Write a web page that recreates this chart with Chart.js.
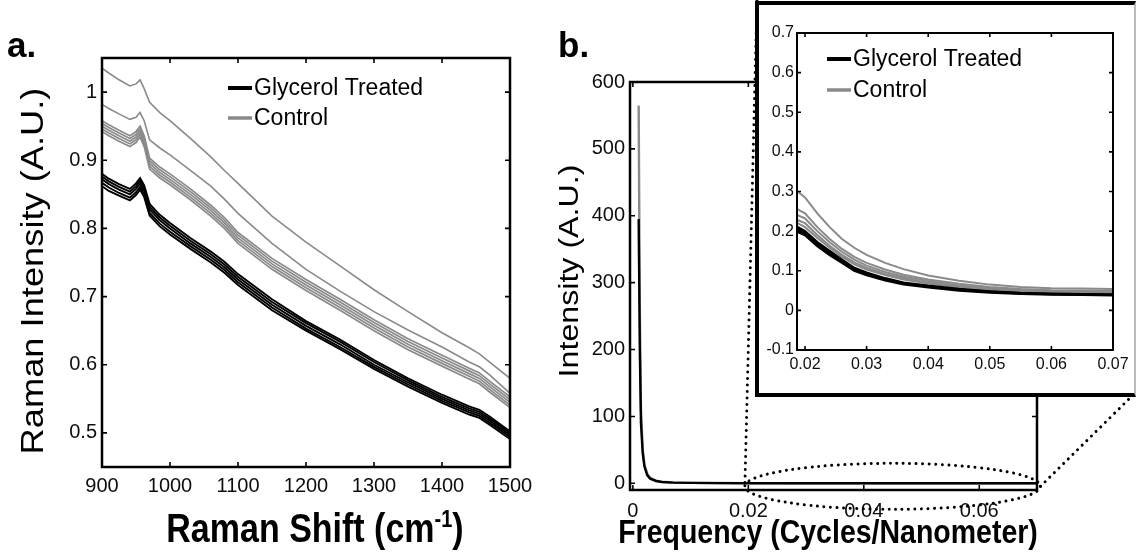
<!DOCTYPE html>
<html>
<head>
<meta charset="utf-8">
<script src="https://cdn.jsdelivr.net/npm/chart.js@4.4.1/dist/chart.umd.min.js"></script>
<style>
  html, body { margin: 0; padding: 0; background: #fff; }
  #wrap { position: relative; width: 1136px; height: 556px; overflow: hidden; }
  canvas { position: absolute; }
  #insetFrame { position: absolute; box-sizing: border-box; background: #fff;
    border: 4px solid #000; border-right: 2px solid #bbb; }
</style>
</head>
<body>
<div id="wrap">
  <canvas id="ramanChart" width="560" height="556" style="left:0;top:0"></canvas>
  <canvas id="fftChart" width="580" height="556" style="left:556px;top:0"></canvas>
  <div id="insetFrame"></div>
  <canvas id="insetChart" width="380" height="400" style="left:756px;top:0"></canvas>
</div>
<script>
Chart.defaults.font.family = "'Liberation Sans', Arial, sans-serif";
Chart.defaults.animation = false;

const INK = "#000";
const GREY = "#8a8a8a";
const FONT = "'Liberation Sans', Arial, sans-serif";

// ---- panel a: Raman spectra ----
const ramanShift = [900, 910, 925, 941, 950, 956, 962, 970, 985, 1000, 1030, 1060, 1080, 1100,
  1150, 1200, 1250, 1300, 1350, 1400, 1440, 1455, 1470, 1500];
const glycerolRaman = [
  [.880, .873, .865, .858, .866, .874, .863, .836, .820, .808, .786, .766, .751, .733, .696, .664, .637, .607, .580, .556, .539, .534, .524, .502],
  [.876, .869, .861, .854, .862, .870, .859, .832, .816, .804, .782, .762, .747, .729, .692, .661, .634, .604, .577, .553, .536, .531, .521, .500],
  [.872, .865, .857, .850, .858, .866, .855, .828, .812, .800, .778, .758, .743, .725, .688, .657, .630, .600, .574, .550, .533, .528, .518, .497],
  [.867, .860, .852, .845, .853, .861, .850, .823, .807, .795, .774, .754, .739, .721, .684, .653, .626, .597, .571, .547, .530, .525, .515, .494],
  [.862, .855, .848, .841, .849, .857, .846, .819, .803, .791, .770, .750, .735, .717, .680, .650, .623, .594, .568, .544, .527, .522, .512, .491]
];
const controlRaman = [
  [1.035, 1.028, 1.018, 1.009, 1.012, 1.018, 1.005, .985, .970, .958, .932, .905, .885, .866, .818, .780, .745, .710, .678, .647, .625, .616, .604, .580],
  [.982, .976, .968, .960, .963, .970, .958, .930, .918, .908, .885, .862, .843, .822, .778, .740, .708, .678, .651, .626, .604, .597, .585, .558],
  [.958, .952, .944, .936, .942, .950, .936, .903, .890, .880, .858, .834, .816, .794, .756, .725, .696, .666, .638, .614, .595, .588, .576, .553],
  [.954, .948, .940, .932, .938, .946, .932, .899, .886, .876, .854, .830, .812, .790, .752, .721, .692, .662, .634, .610, .591, .584, .572, .549],
  [.950, .944, .936, .928, .934, .942, .928, .895, .882, .872, .850, .826, .808, .786, .748, .717, .688, .658, .630, .606, .587, .580, .568, .545],
  [.946, .940, .932, .924, .930, .938, .924, .891, .878, .868, .846, .822, .804, .782, .744, .713, .684, .654, .626, .602, .583, .576, .564, .541],
  [.942, .936, .928, .920, .926, .934, .920, .887, .874, .864, .842, .818, .800, .778, .740, .709, .680, .650, .622, .598, .579, .572, .560, .537]
];
const ramanTicks = [900, 1000, 1100, 1200, 1300, 1400, 1500];
const ramanTickLabels = ["900", "1000", "1100", "1200", "1300", "1400", "1500"];
const intensityTicks = [0.5, 0.6, 0.7, 0.8, 0.9, 1];
const intensityTickLabels = ["0.5", "0.6", "0.7", "0.8", "0.9", "1"];

// ---- panel b: spatial frequency spectrum ----
const freq = [0.001, 0.0012, 0.0014, 0.0017, 0.002, 0.0025, 0.003, 0.004, 0.005, 0.007, 0.01, 0.015, 0.02, 0.03, 0.05, 0.07];
const glycerolFft = [395, 200, 90, 45, 25, 12, 7, 3.5, 2, 1.1, 0.6, 0.35, 0.2, 0.08, 0.045, 0.038];
const controlFft = [565, 260, 110, 52, 28, 14, 8, 4, 2.3, 1.3, 0.7, 0.42, 0.25, 0.1, 0.055, 0.047];
const freqTicks = [0, 0.02, 0.04, 0.06];
const freqTickLabels = ["0", "0.02", "0.04", "0.06"];
const fftTicks = [0, 100, 200, 300, 400, 500, 600];
const fftTickLabels = ["0", "100", "200", "300", "400", "500", "600"];
const zoomWindow = [0.0194, 0.0706];

// ---- inset ----
const freqZoom = [0.0188, 0.020, 0.022, 0.024, 0.026, 0.028, 0.030, 0.033, 0.036, 0.040, 0.045, 0.050, 0.055, 0.060, 0.065, 0.070];
const glycerolZoom = [
  [0.210, 0.200, 0.172, 0.150, 0.128, 0.107, 0.095, 0.081, 0.070, 0.062, 0.054, 0.048, 0.044, 0.042, 0.041, 0.040],
  [0.205, 0.195, 0.168, 0.145, 0.124, 0.103, 0.092, 0.078, 0.068, 0.060, 0.052, 0.047, 0.043, 0.041, 0.040, 0.039],
  [0.198, 0.190, 0.162, 0.140, 0.120, 0.100, 0.089, 0.076, 0.066, 0.058, 0.050, 0.045, 0.042, 0.040, 0.039, 0.038]
];
const controlZoom = [
  [0.300, 0.285, 0.245, 0.210, 0.180, 0.158, 0.140, 0.120, 0.104, 0.088, 0.075, 0.065, 0.059, 0.056, 0.055, 0.054],
  [0.255, 0.245, 0.210, 0.180, 0.155, 0.135, 0.120, 0.103, 0.090, 0.078, 0.067, 0.059, 0.054, 0.051, 0.050, 0.049],
  [0.240, 0.232, 0.200, 0.172, 0.148, 0.128, 0.113, 0.097, 0.085, 0.074, 0.063, 0.056, 0.052, 0.049, 0.048, 0.047],
  [0.228, 0.220, 0.190, 0.163, 0.140, 0.121, 0.107, 0.092, 0.081, 0.070, 0.060, 0.053, 0.049, 0.047, 0.046, 0.045],
  [0.220, 0.210, 0.183, 0.158, 0.135, 0.116, 0.103, 0.089, 0.078, 0.068, 0.058, 0.051, 0.047, 0.045, 0.044, 0.043]
];
const zoomXTicks = [0.02, 0.03, 0.04, 0.05, 0.06, 0.07];
const zoomXTickLabels = ["0.02", "0.03", "0.04", "0.05", "0.06", "0.07"];
const zoomYTicks = [-0.1, 0, 0.1, 0.2, 0.3, 0.4, 0.5, 0.6, 0.7];
const zoomYTickLabels = ["-0.1", "0", "0.1", "0.2", "0.3", "0.4", "0.5", "0.6", "0.7"];

const insetBox = { left: 755, top: 1, width: 381, height: 396 };
const fftCanvasLeft = 556;

// ---- helpers ----
function pts(xs, ys) {
  return xs.map((x, i) => ({ x: x, y: ys[i] }));
}

function lineSet(xs, ys, color, width) {
  return { data: pts(xs, ys), borderColor: color, borderWidth: width, pointRadius: 0, fill: false, tension: 0 };
}

function axis(min, max, ticks, labels, size, pad, fit, isX) {
  return {
    type: "linear", min: min, max: max,
    grid: { display: false, drawTicks: false, tickLength: 0 },
    border: { display: false },
    ticks: { font: { size: size }, color: "#0d0d0d", padding: pad, autoSkip: false, maxRotation: 0,
      callback: (v, i) => labels[i] },
    afterBuildTicks: s => { s.ticks = ticks.map(value => ({ value: value })); },
    afterFit: s => { if (isX) s.height = fit; else s.width = fit; }
  };
}

// plot box with inward ticks on all four sides
function boxFrame(frameW, tickLen) {
  return {
    id: "boxFrame",
    afterDatasetsDraw(chart) {
      const { ctx, chartArea: a, scales: { x, y } } = chart;
      ctx.save();
      ctx.strokeStyle = INK;
      ctx.lineWidth = 1.6;
      ctx.beginPath();
      x.ticks.forEach(t => {
        const px = x.getPixelForValue(t.value);
        ctx.moveTo(px, a.bottom); ctx.lineTo(px, a.bottom - tickLen);
        ctx.moveTo(px, a.top); ctx.lineTo(px, a.top + tickLen);
      });
      y.ticks.forEach(t => {
        const py = y.getPixelForValue(t.value);
        ctx.moveTo(a.left, py); ctx.lineTo(a.left + tickLen, py);
        ctx.moveTo(a.right, py); ctx.lineTo(a.right - tickLen, py);
      });
      ctx.stroke();
      ctx.lineWidth = frameW;
      ctx.strokeRect(a.left, a.top, a.right - a.left, a.bottom - a.top);
      ctx.restore();
    }
  };
}

function stretchText(ctx, str, x, y, font, stretch, vertical) {
  ctx.save();
  ctx.translate(x, y);
  if (vertical) { ctx.rotate(-Math.PI / 2); ctx.scale(stretch, 1); }
  else ctx.scale(1, stretch);
  ctx.font = font;
  ctx.fillStyle = "#000";
  ctx.textAlign = "center";
  ctx.textBaseline = vertical ? "middle" : "alphabetic";
  ctx.fillText(str, 0, 0);
  ctx.restore();
}

function drawLegend(ctx, x, y, gap, size) {
  const items = [["Glycerol Treated", INK, 4], ["Control", GREY, 3.5]];
  ctx.save();
  items.forEach(([label, color, w], i) => {
    const yy = y + i * gap;
    ctx.strokeStyle = color;
    ctx.lineWidth = w;
    ctx.beginPath();
    ctx.moveTo(x, yy);
    ctx.lineTo(x + 24, yy);
    ctx.stroke();
    ctx.fillStyle = "#000";
    ctx.font = size + "px " + FONT;
    ctx.textAlign = "left";
    ctx.textBaseline = "middle";
    ctx.fillText(label, x + 26, yy + 1);
  });
  ctx.restore();
}

function dotted(ctx) {
  ctx.strokeStyle = "#000";
  ctx.lineWidth = 3;
  ctx.lineCap = "round";
  ctx.setLineDash([0.01, 6.5]);
}

// ---- panel a ----
const ramanSets = [];
glycerolRaman.forEach(ys => ramanSets.push(lineSet(ramanShift, ys, INK, 1.9)));
controlRaman.forEach((ys, i) => ramanSets.push(lineSet(ramanShift, ys, GREY, i < 2 ? 1.6 : 1.7)));

new Chart(document.getElementById("ramanChart"), {
  type: "line",
  data: { datasets: ramanSets },
  options: {
    responsive: false,
    layout: { padding: { left: 0, top: 58, right: 50, bottom: 0 } },
    plugins: { legend: { display: false }, tooltip: { enabled: false } },
    scales: {
      x: axis(900, 1500, ramanTicks, ramanTickLabels, 20, 7, 89, true),
      y: axis(0.45, 1.05, intensityTicks, intensityTickLabels, 20, 5, 102, false)
    }
  },
  plugins: [boxFrame(2.5, 5), {
    id: "panelA",
    afterDraw(chart) {
      const ctx = chart.ctx;
      drawLegend(ctx, 228, 88, 30, 23);
      stretchText(ctx, "Raman Intensity (A.U.)", 34, 271, "31px " + FONT, 1.17, true);
      // x title with superscript
      ctx.save();
      ctx.translate(315, 542);
      ctx.scale(1, 1.17);
      ctx.fillStyle = "#000";
      ctx.textBaseline = "alphabetic";
      ctx.textAlign = "left";
      const big = "bold 34px " + FONT, small = "bold 20px " + FONT;
      ctx.font = big;
      const w1 = ctx.measureText("Raman Shift (cm").width;
      const w3 = ctx.measureText(")").width;
      ctx.font = small;
      const w2 = ctx.measureText("-1").width;
      let x0 = -(w1 + w2 + w3) / 2;
      ctx.font = big; ctx.fillText("Raman Shift (cm", x0, 0);
      ctx.font = small; ctx.fillText("-1", x0 + w1, -13);
      ctx.font = big; ctx.fillText(")", x0 + w1 + w2, 0);
      ctx.restore();
      ctx.save();
      ctx.font = "bold 35px " + FONT;
      ctx.fillStyle = "#000";
      ctx.fillText("a.", 7, 57);
      ctx.restore();
    }
  }]
});

// ---- panel b ----
new Chart(document.getElementById("fftChart"), {
  type: "line",
  data: { datasets: [lineSet(freq, glycerolFft, INK, 2.4), lineSet(freq, controlFft, GREY, 2.4)] },
  options: {
    responsive: false,
    layout: { padding: { left: 0, top: 82, right: 99, bottom: 0 } },
    plugins: { legend: { display: false }, tooltip: { enabled: false } },
    scales: {
      x: axis(-0.0005, 0.07, freqTicks, freqTickLabels, 20, 9, 66, true),
      y: axis(-10, 600, fftTicks, fftTickLabels, 20, 5, 74, false)
    }
  },
  plugins: [boxFrame(2.5, 5), {
    id: "panelB",
    afterDraw(chart) {
      const { ctx, scales: { x, y } } = chart;
      const cy = y.getPixelForValue(0) + 3;
      const left = x.getPixelForValue(zoomWindow[0]);
      const right = x.getPixelForValue(zoomWindow[1]);
      ctx.save();
      dotted(ctx);
      ctx.beginPath();
      ctx.ellipse((left + right) / 2, cy, (right - left) / 2, 23, 0, 0, Math.PI * 2);
      ctx.stroke();
      ctx.beginPath();
      ctx.moveTo(insetBox.left + 2 - fftCanvasLeft, insetBox.top);
      ctx.lineTo(left, cy);
      ctx.stroke();
      ctx.beginPath();
      ctx.moveTo(right, cy);
      ctx.lineTo(insetBox.left + insetBox.width - 3 - fftCanvasLeft, insetBox.top + insetBox.height - 2);
      ctx.stroke();
      ctx.restore();
      stretchText(ctx, "Intensity (A.U.)", 14, 271, "27.5px " + FONT, 1.17, true);
      stretchText(ctx, "Frequency (Cycles/Nanometer)", 272, 543, "bold 28.5px " + FONT, 1.17, false);
      ctx.save();
      ctx.font = "bold 35px " + FONT;
      ctx.fillStyle = "#000";
      ctx.fillText("b.", 2, 57);
      ctx.restore();
    }
  }]
});

// ---- inset ----
const frame = document.getElementById("insetFrame");
frame.style.left = insetBox.left + "px";
frame.style.top = insetBox.top + "px";
frame.style.width = insetBox.width + "px";
frame.style.height = insetBox.height + "px";

const zoomSets = [];
glycerolZoom.forEach(ys => zoomSets.push(lineSet(freqZoom, ys, INK, 2.4)));
controlZoom.forEach(ys => zoomSets.push(lineSet(freqZoom, ys, GREY, 2)));

new Chart(document.getElementById("insetChart"), {
  type: "line",
  data: { datasets: zoomSets },
  options: {
    responsive: false,
    layout: { padding: { left: 0, top: 33, right: 23, bottom: 0 } },
    plugins: { legend: { display: false }, tooltip: { enabled: false } },
    scales: {
      x: axis(0.0187, 0.07, zoomXTicks, zoomXTickLabels, 16, 5, 50, true),
      y: axis(-0.1, 0.7, zoomYTicks, zoomYTickLabels, 16, 3, 41, false)
    }
  },
  plugins: [boxFrame(2, 4), {
    id: "insetLegend",
    afterDraw(chart) {
      drawLegend(chart.ctx, 71, 59, 31, 23);
    }
  }]
});
</script>
</body>
</html>
